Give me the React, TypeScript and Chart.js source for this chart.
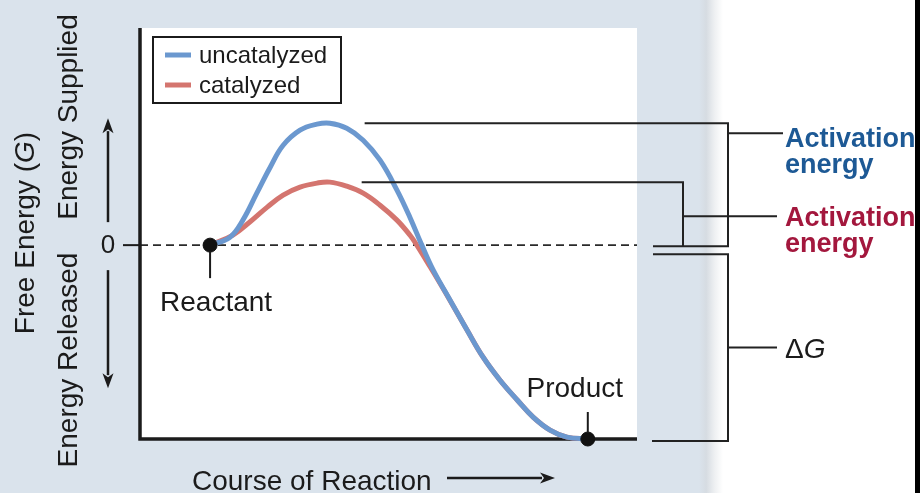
import React, { useEffect, useRef } from "react";
import { Chart, registerables } from "chart.js";

Chart.register(...registerables);

// ---------- data ----------
const seriesLabels = ["uncatalyzed", "catalyzed"];
const uncatX = [14.1, 18.1, 20.7, 23.5, 26.2, 28.8, 32.2, 35.6, 38.2, 41.6, 44.9, 48.3, 51.7, 54.3, 56.7, 59.0, 62.4, 65.8, 69.0, 72.4, 75.9, 79.1, 82.5, 85.9, 90.1];
const uncatY = [0, 4.1, 12.9, 26.8, 40.2, 51.5, 59.3, 62.4, 62.9, 60.3, 54.1, 43.8, 28.4, 14.4, 0, -12.9, -28.4, -43.8, -57.7, -69.6, -79.9, -88.7, -95.4, -99.0, -100];
const catX = [14.1, 18.7, 22.1, 25.6, 28.8, 32.2, 35.6, 38.2, 41.6, 44.9, 48.3, 51.7, 54.3, 55.7, 58.4, 61.4, 65.8, 69.0, 72.4, 75.9, 79.1, 82.5, 85.9, 90.1];
const catY = [0, 5.2, 11.9, 19.6, 25.8, 29.9, 32.0, 32.5, 30.4, 26.8, 20.6, 12.9, 5.2, 0, -11.3, -24.2, -43.8, -57.7, -69.6, -79.9, -88.7, -95.4, -99.0, -100];
const markerLabels = ["Reactant", "Product"];
const markerX = [14.1, 90.1];
const markerY = [0, -100];
const yTickValues = [0];
const yTickLabels = ["0"];
const xTitle = "Course of Reaction";
const yTitleParts = [
  { t: "Free Energy (", italic: false },
  { t: "G", italic: true },
  { t: ")", italic: false },
];
const upLabel = "Energy Supplied";
const downLabel = "Energy Released";
const activationLines = ["Activation", "energy"];
const deltaParts = [
  { t: "\u0394", italic: false },
  { t: "G", italic: true },
];

// ---------- style ----------
const BG = "#dae3ec";
const INK = "#1b1b1b";
const BLUE = "#6b98cf";
const RED = "#d4756f";
const BLUE_TXT = "#1d5995";
const RED_TXT = "#a3173d";
const FONT = "'Liberation Sans', Arial, Helvetica, sans-serif";

function arrow(ctx: CanvasRenderingContext2D, x1: number, y1: number, x2: number, y2: number) {
  const ang = Math.atan2(y2 - y1, x2 - x1);
  const hl = 15;
  const hw = 5.5;
  ctx.beginPath();
  ctx.moveTo(x1, y1);
  ctx.lineTo(x2 - Math.cos(ang) * (hl - 2), y2 - Math.sin(ang) * (hl - 2));
  ctx.stroke();
  ctx.beginPath();
  ctx.moveTo(x2, y2);
  ctx.lineTo(x2 - Math.cos(ang) * hl - Math.sin(ang) * hw, y2 - Math.sin(ang) * hl + Math.cos(ang) * hw);
  ctx.lineTo(x2 - Math.cos(ang) * (hl - 4), y2 - Math.sin(ang) * (hl - 4));
  ctx.lineTo(x2 - Math.cos(ang) * hl + Math.sin(ang) * hw, y2 - Math.sin(ang) * hl - Math.cos(ang) * hw);
  ctx.closePath();
  ctx.fill();
}

function richText(
  ctx: CanvasRenderingContext2D,
  parts: { t: string; italic: boolean }[],
  size: number,
  x: number,
  y: number,
  align: "left" | "center"
) {
  const fonts = parts.map((p) => `${p.italic ? "italic " : ""}${size}px ${FONT}`);
  const widths = parts.map((p, i) => {
    ctx.font = fonts[i];
    return ctx.measureText(p.t).width;
  });
  const total = widths.reduce((a, b) => a + b, 0);
  let cx = align === "center" ? x - total / 2 : x;
  ctx.textAlign = "left";
  parts.forEach((p, i) => {
    ctx.font = fonts[i];
    ctx.fillText(p.t, cx, y);
    cx += widths[i];
  });
}

const decor = {
  id: "decor",
  beforeDraw(chart: any) {
    const { ctx, chartArea: a, scales } = chart;
    const yS = scales.y;
    const W = chart.width;
    const H = chart.height;
    const y0 = yS.getPixelForValue(0);
    ctx.save();
    ctx.fillStyle = "#ffffff";
    ctx.fillRect(0, 0, W, H);
    ctx.fillStyle = BG;
    ctx.fillRect(0, 0, a.right + 64, H);
    const g = ctx.createLinearGradient(a.right + 62, 0, a.right + 86, 0);
    g.addColorStop(0, BG);
    g.addColorStop(0.3, "#d6dce2");
    g.addColorStop(0.65, "#eef0f2");
    g.addColorStop(1, "#ffffff");
    ctx.fillStyle = g;
    ctx.fillRect(a.right + 62, 0, 24, H);
    // plot area
    ctx.fillStyle = "#ffffff";
    ctx.fillRect(a.left, a.top, a.right - a.left, a.bottom - a.top);
    // zero dashed line
    ctx.strokeStyle = "#2a2a2a";
    ctx.lineWidth = 1.6;
    ctx.setLineDash([8, 5]);
    ctx.beginPath();
    ctx.moveTo(a.left, y0);
    ctx.lineTo(a.right, y0);
    ctx.stroke();
    ctx.setLineDash([]);
    // axes
    ctx.strokeStyle = INK;
    ctx.lineWidth = 3.5;
    ctx.beginPath();
    ctx.moveTo(a.left, a.top);
    ctx.lineTo(a.left, a.bottom);
    ctx.lineTo(a.right, a.bottom);
    ctx.stroke();
    // y ticks
    ctx.lineWidth = 2;
    ctx.fillStyle = INK;
    yTickValues.forEach((v, i) => {
      const py = yS.getPixelForValue(v);
      ctx.beginPath();
      ctx.moveTo(a.left - 17, py);
      ctx.lineTo(a.left, py);
      ctx.stroke();
      ctx.font = `26px ${FONT}`;
      ctx.textAlign = "center";
      ctx.textBaseline = "middle";
      ctx.fillText(yTickLabels[i], a.left - 32, py + 1);
    });
    ctx.textBaseline = "alphabetic";
    ctx.restore();
  },
  afterDraw(chart: any) {
    const { ctx, chartArea: a, scales } = chart;
    const xS = scales.x;
    const yS = scales.y;
    const H = chart.height;
    const y0 = yS.getPixelForValue(0);
    ctx.save();
    ctx.fillStyle = INK;
    ctx.strokeStyle = INK;
    ctx.textBaseline = "alphabetic";

    // marker ticks & labels
    ctx.lineWidth = 2;
    const rx = xS.getPixelForValue(markerX[0]);
    const ry = yS.getPixelForValue(markerY[0]);
    ctx.beginPath();
    ctx.moveTo(rx, ry + 6);
    ctx.lineTo(rx, ry + 33);
    ctx.stroke();
    ctx.font = `28px ${FONT}`;
    ctx.textAlign = "center";
    ctx.fillText(markerLabels[0], rx + 6, ry + 66);
    const px = xS.getPixelForValue(markerX[1]);
    const py = yS.getPixelForValue(markerY[1]);
    ctx.beginPath();
    ctx.moveTo(px, py - 27);
    ctx.lineTo(px, py - 6);
    ctx.stroke();
    ctx.fillText(markerLabels[1], px - 13, py - 42);

    // legend
    const lx = a.left + 13;
    const ly = a.top + 9;
    ctx.fillStyle = "#ffffff";
    ctx.fillRect(lx, ly, 188, 66);
    ctx.lineWidth = 2;
    ctx.strokeRect(lx, ly, 188, 66);
    chart.data.datasets.slice(0, 2).forEach((ds: any, i: number) => {
      const yy = ly + 18 + i * 30;
      ctx.strokeStyle = ds.borderColor;
      ctx.lineWidth = 5;
      ctx.beginPath();
      ctx.moveTo(lx + 12, yy);
      ctx.lineTo(lx + 38, yy);
      ctx.stroke();
      ctx.fillStyle = INK;
      ctx.font = `24px ${FONT}`;
      ctx.textAlign = "left";
      ctx.fillText(ds.label, lx + 46, yy + 8);
    });

    // brackets
    ctx.strokeStyle = "#222";
    ctx.lineWidth = 2;
    const peakU = yS.getPixelForValue(Math.max(...uncatY));
    const peakC = yS.getPixelForValue(Math.max(...catY));
    const bxOuter = a.right + 91;
    const bxInner = a.right + 46;
    const bxStart = a.right + 16;
    // uncatalyzed activation bracket
    ctx.beginPath();
    ctx.moveTo(xS.getPixelForValue(45.2), peakU);
    ctx.lineTo(bxOuter, peakU);
    ctx.lineTo(bxOuter, y0 + 1);
    ctx.lineTo(bxStart, y0 + 1);
    ctx.moveTo(bxOuter, peakU + 10);
    ctx.lineTo(bxOuter + 55, peakU + 10);
    // catalyzed activation bracket
    ctx.moveTo(xS.getPixelForValue(44.6), peakC);
    ctx.lineTo(bxInner, peakC);
    ctx.lineTo(bxInner, y0 + 1);
    ctx.moveTo(bxInner, peakC + 34);
    ctx.lineTo(bxInner + 94, peakC + 34);
    // delta G bracket
    ctx.moveTo(bxStart, y0 + 9);
    ctx.lineTo(bxOuter, y0 + 9);
    ctx.lineTo(bxOuter, a.bottom + 2);
    ctx.lineTo(bxStart - 1, a.bottom + 2);
    const midG = (y0 + 9 + a.bottom + 2) / 2;
    ctx.moveTo(bxOuter, midG);
    ctx.lineTo(bxOuter + 49, midG);
    ctx.stroke();

    const tx = a.right + 148;
    ctx.textAlign = "left";
    ctx.font = `bold 27px ${FONT}`;
    ctx.fillStyle = BLUE_TXT;
    ctx.fillText(activationLines[0], tx, peakU + 24);
    ctx.fillText(activationLines[1], tx, peakU + 50);
    ctx.fillStyle = RED_TXT;
    ctx.fillText(activationLines[0], tx, peakC + 44);
    ctx.fillText(activationLines[1], tx, peakC + 70);
    ctx.fillStyle = INK;
    richText(ctx, deltaParts, 28, tx, midG + 10, "left");

    // right border
    ctx.fillStyle = "#000";
    ctx.fillRect(915, 0, 5, H);

    // left labels
    ctx.fillStyle = INK;
    ctx.save();
    ctx.translate(34, 233);
    ctx.rotate(-Math.PI / 2);
    richText(ctx, yTitleParts, 28, 0, 0, "center");
    ctx.restore();
    ctx.font = `28px ${FONT}`;
    ctx.textAlign = "center";
    ctx.save();
    ctx.translate(77, 117);
    ctx.rotate(-Math.PI / 2);
    ctx.fillText(upLabel, 0, 0);
    ctx.restore();
    ctx.save();
    ctx.translate(77, 360);
    ctx.rotate(-Math.PI / 2);
    ctx.fillText(downLabel, 0, 0);
    ctx.restore();

    // arrows
    ctx.strokeStyle = INK;
    ctx.fillStyle = INK;
    ctx.lineWidth = 2.5;
    arrow(ctx, 108, y0 - 23, 108, y0 - 127);
    arrow(ctx, 108, y0 + 25, 108, y0 + 143);
    ctx.font = `28px ${FONT}`;
    ctx.textAlign = "left";
    ctx.fillText(xTitle, a.left + 52, a.bottom + 51);
    arrow(ctx, a.left + 307, a.bottom + 39, a.left + 415, a.bottom + 39);
    ctx.restore();
  },
};

export default function App() {
  const ref = useRef<HTMLCanvasElement>(null);
  useEffect(() => {
    if (!ref.current) return;
    const chart = new Chart(ref.current, {
      type: "line",
      data: {
        datasets: [
          {
            label: seriesLabels[0],
            data: uncatX.map((x, i) => ({ x, y: uncatY[i] })),
            borderColor: BLUE,
            borderWidth: 5,
            pointRadius: 0,
            tension: 0.4,
            clip: false as any,
            order: 1,
            fill: false,
          },
          {
            label: seriesLabels[1],
            data: catX.map((x, i) => ({ x, y: catY[i] })),
            borderColor: RED,
            borderWidth: 5,
            pointRadius: 0,
            tension: 0.4,
            clip: false as any,
            order: 2,
            fill: false,
          },
          {
            label: "markers",
            data: markerX.map((x, i) => ({ x, y: markerY[i] })),
            showLine: false,
            pointRadius: 7,
            pointBackgroundColor: "#111",
            pointBorderColor: "#111",
            borderColor: "#111",
            clip: false as any,
            order: 0,
          },
        ],
      },
      options: {
        responsive: false,
        animation: false,
        events: [],
        layout: { padding: { left: 140, top: 28, right: 283, bottom: 54 } },
        plugins: { legend: { display: false }, tooltip: { enabled: false }, title: { display: false } },
        scales: {
          x: { type: "linear", min: 0, max: 100, display: false },
          y: { type: "linear", min: -100, max: 112, display: false },
        },
      },
      plugins: [decor],
    });
    return () => chart.destroy();
  }, []);
  return (
    <div style={{ position: "fixed", left: 0, top: 0, width: 920, height: 493 }}>
      <canvas ref={ref} width={920} height={493} style={{ display: "block" }} />
    </div>
  );
}
